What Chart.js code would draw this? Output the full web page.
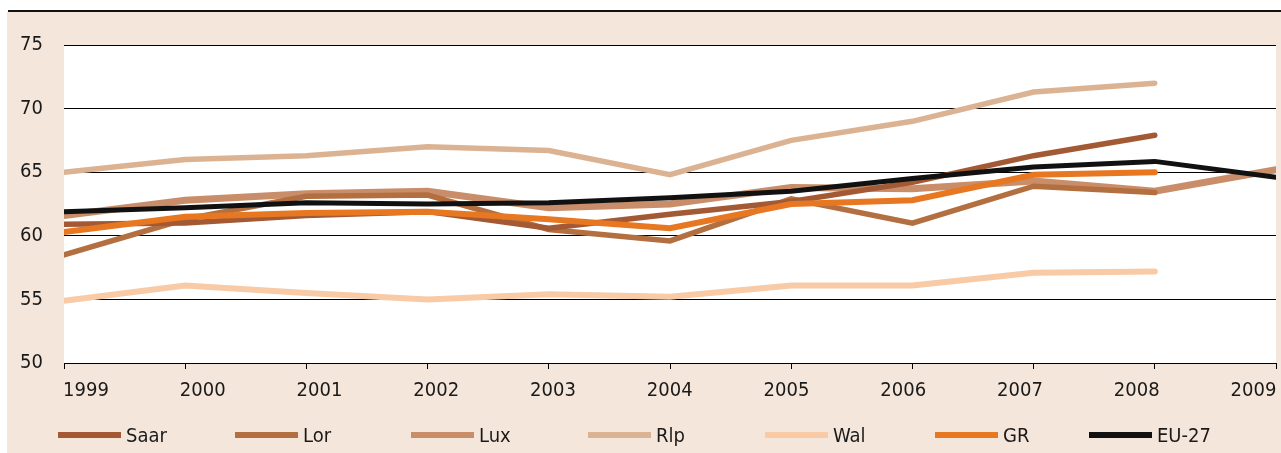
<!DOCTYPE html>
<html>
<head>
<meta charset="utf-8">
<script src="https://cdn.jsdelivr.net/npm/chart.js@4.4.0/dist/chart.umd.min.js"></script>
<style>
  body { margin: 0; background: #fff; width: 1281px; height: 453px; overflow: hidden; position: relative; }
  #rule { position: absolute; left: 8px; top: 10px; width: 1273px; height: 2px; background: #111; }
  #panel { position: absolute; left: 7px; top: 12px; width: 1274px; height: 441px; background: #f5e6db; }
  #wrap { position: absolute; left: 7px; top: 12px; width: 1274px; height: 441px; }
  .item { position: absolute; top: 423px; height: 24px; display: flex; align-items: center;
          font-family: "Liberation Sans Narrow", "DejaVu Sans Condensed", sans-serif; font-size: 20px; color: #1a1a1a; }
  .swatch { width: 63px; height: 6px; margin-right: 5px; }
</style>
</head>
<body>
<div id="rule"></div>
<div id="panel"></div>
<div id="wrap"><canvas id="chart"></canvas></div>
<div id="legend"></div>
<script>
// years on the axis
const years = ["1999", "2000", "2001", "2002", "2003", "2004", "2005", "2006", "2007", "2008", "2009"];

// employment rate per region (null = no value)
const saar = [60.9, 61.0, 61.6, 61.9, 60.6, 61.7, 62.7, 64.2, 66.3, 67.9, null];
const lor  = [58.5, 61.3, 63.1, 63.2, 60.5, 59.6, 62.9, 61.0, 63.9, 63.4, null];
const lux  = [61.6, 62.8, 63.3, 63.5, 62.2, 62.5, 63.8, 63.7, 64.3, 63.5, 65.2];
const rlp  = [65.0, 66.0, 66.3, 67.0, 66.7, 64.8, 67.5, 69.0, 71.3, 72.0, null];
const wal  = [54.9, 56.1, 55.5, 55.0, 55.4, 55.2, 56.1, 56.1, 57.1, 57.2, null];
const gr   = [60.3, 61.5, 61.8, 61.9, 61.3, 60.6, 62.5, 62.8, 64.8, 65.0, null];
const eu27 = [61.9, 62.2, 62.6, 62.5, 62.6, 63.0, 63.5, 64.5, 65.4, 65.85, 64.6];

const names = ["Saar", "Lor", "Lux", "Rlp", "Wal", "GR", "EU-27"];
const yTicks = [50, 55, 60, 65, 70, 75];

const FONT = '"Liberation Sans Narrow", "DejaVu Sans Condensed", sans-serif';
const colors = ["#a35a34", "#b36f3f", "#c98e69", "#dbb393", "#f9caa6", "#e87722", "#111111"];
const widths = [5.5, 5.5, 7, 5.5, 6, 6, 5];
const drawOrder = [2, 3, 4, 6, 5, 1, 0];
const legendLeft = [58, 235, 411, 588, 765, 935, 1089];

const series = [saar, lor, lux, rlp, wal, gr, eu27];

Chart.defaults.font.family = FONT;

// white plot area on the beige panel
const plotBg = {
  id: "plotBg",
  beforeDraw(chart) {
    const a = chart.chartArea;
    chart.ctx.save();
    chart.ctx.fillStyle = "#ffffff";
    chart.ctx.fillRect(a.left, a.top, a.right - a.left, a.bottom - a.top);
    chart.ctx.restore();
  },
};

const ctx = document.getElementById("chart").getContext("2d");
const myChart = new Chart(ctx, {
  type: "line",
  data: {
    labels: years,
    datasets: series.map((vals, i) => ({
      label: names[i],
      data: vals,
      borderColor: colors[i],
      backgroundColor: colors[i],
      borderWidth: widths[i],
      borderCapStyle: "round",
      borderJoinStyle: "miter",
      pointRadius: 0,
      tension: 0,
      spanGaps: false,
      clip: 0,
      order: drawOrder[i],
    })),
  },
  options: {
    responsive: true,
    maintainAspectRatio: false,
    animation: false,
    layout: { padding: { top: 31, right: 5, left: 0, bottom: 0 } },
    plugins: { legend: { display: false }, tooltip: { enabled: false } },
    scales: {
      x: {
        type: "category",
        position: "bottom",
        offset: false,
        grid: { drawOnChartArea: false, drawTicks: true, tickLength: 6, color: "#000", lineWidth: 1 },
        border: { display: true, color: "#000", width: 1 },
        ticks: { display: false },
        afterFit(s) { s.height = 6; },
      },
      xl: {
        type: "linear",
        position: "bottom",
        min: 1998.812,
        max: 2009.193,
        grid: { display: false },
        border: { display: false },
        ticks: {
          stepSize: 1,
          includeBounds: false,
          padding: 2,
          color: "#1a1a1a",
          font: { size: 20 },
          maxRotation: 0,
          autoSkip: false,
          callback: (v) => (Number.isInteger(v) && years.includes(String(v)) ? String(v) : ""),
        },
        afterFit(s) { s.height = 84; },
      },
      y: {
        min: yTicks[0],
        max: yTicks[yTicks.length - 1],
        grid: { color: "#000", lineWidth: 1, drawTicks: false },
        border: { display: false },
        ticks: { stepSize: 5, padding: 21, color: "#1a1a1a", font: { size: 20 } },
        afterFit(s) { s.width = 57; },
      },
    },
  },
  plugins: [plotBg],
});

// legend under the axis
const legend = document.getElementById("legend");
names.forEach((name, i) => {
  const item = document.createElement("div");
  item.className = "item";
  item.style.left = legendLeft[i] + "px";
  item.innerHTML = '<div class="swatch" style="background:' + colors[i] + '"></div><span>' + name + "</span>";
  legend.appendChild(item);
});
</script>
</body>
</html>
